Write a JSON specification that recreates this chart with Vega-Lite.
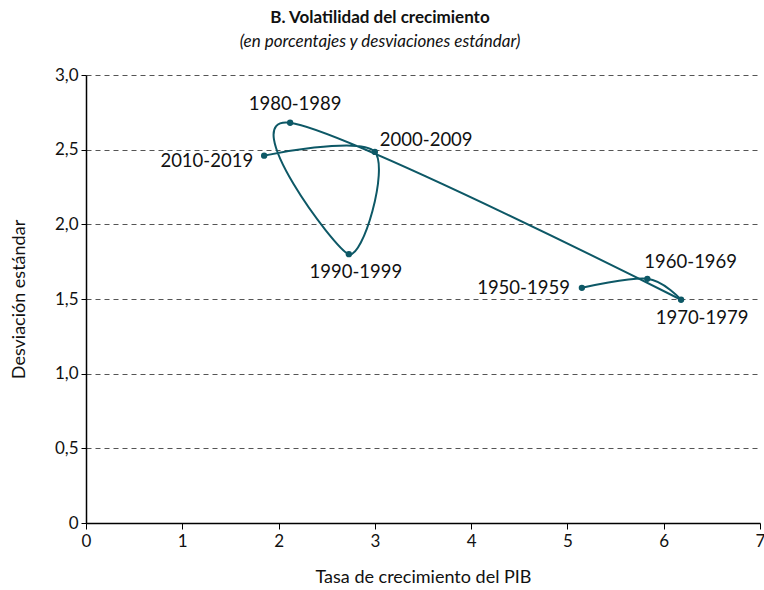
{
  "$schema": "https://vega.github.io/schema/vega-lite/v6.json",
  "autosize": "none",
  "width": 674,
  "height": 448,
  "padding": {"left": 86, "top": 75, "right": 4, "bottom": 67},
  "background": "white",
  "title": {
    "text": "B. Volatilidad del crecimiento",
    "subtitle": "(en porcentajes y desviaciones estándar)",
    "anchor": "middle",
    "dx": -43,
    "offset": 15,
    "font": "Lato",
    "fontSize": 17,
    "fontWeight": "bold",
    "color": "#111",
    "subtitleFont": "Lato",
    "subtitleFontSize": 17,
    "subtitleFontStyle": "italic",
    "subtitleColor": "#111",
    "subtitlePadding": 7
  },
  "data": {
    "values": [
      {"periodo": "1950-1959", "orden": 1, "crecimiento": 5.15, "desviacion": 1.575},
      {"periodo": "1960-1969", "orden": 2, "crecimiento": 5.83, "desviacion": 1.635},
      {"periodo": "1970-1979", "orden": 3, "crecimiento": 6.18, "desviacion": 1.495},
      {"periodo": "1980-1989", "orden": 4, "crecimiento": 2.12, "desviacion": 2.68},
      {"periodo": "1990-1999", "orden": 5, "crecimiento": 2.73, "desviacion": 1.80},
      {"periodo": "2000-2009", "orden": 6, "crecimiento": 3.0, "desviacion": 2.485},
      {"periodo": "2010-2019", "orden": 7, "crecimiento": 1.85, "desviacion": 2.46}
    ]
  },
  "encoding": {
    "x": {
      "field": "crecimiento",
      "type": "quantitative",
      "scale": {"domain": [0, 7], "nice": false},
      "axis": {
        "title": "Tasa de crecimiento del PIB",
        "values": [0, 1, 2, 3, 4, 5, 6, 7],
        "grid": false,
        "domainColor": "#000",
        "domainWidth": 1.5,
        "tickColor": "#000",
        "tickSize": 6,
        "labelFont": "Lato",
        "labelFontSize": 17,
        "labelColor": "#111",
        "labelPadding": 4,
        "labelFlush": false,
        "titleFont": "Lato",
        "titleFontSize": 18,
        "titleFontWeight": "normal",
        "titleColor": "#111",
        "titlePadding": 19
      }
    },
    "y": {
      "field": "desviacion",
      "type": "quantitative",
      "scale": {"domain": [0, 3], "nice": false},
      "axis": {
        "title": "Desviación estándar",
        "values": [0, 0.5, 1, 1.5, 2, 2.5, 3],
        "labelExpr": "datum.value == 0 ? '0' : replace(format(datum.value, '.1f'), '.', ',')",
        "grid": true,
        "gridDash": [5, 4],
        "gridColor": "#555",
        "gridWidth": 1,
        "domainColor": "#000",
        "domainWidth": 1.5,
        "tickColor": "#000",
        "tickSize": 5,
        "labelFont": "Lato",
        "labelFontSize": 17,
        "labelColor": "#111",
        "labelPadding": 3,
        "titleFont": "Lato",
        "titleFontSize": 18,
        "titleFontWeight": "normal",
        "titleColor": "#111",
        "titlePadding": 26
      }
    }
  },
  "layer": [
    {
      "transform": [{"filter": "datum.orden <= 3"}],
      "mark": {"type": "line", "interpolate": "cardinal", "tension": 0, "color": "#0d5866", "strokeWidth": 2},
      "encoding": {"order": {"field": "orden", "type": "quantitative"}}
    },
    {
      "transform": [{"filter": "datum.orden >= 3"}],
      "mark": {"type": "line", "interpolate": "cardinal", "tension": 0, "color": "#0d5866", "strokeWidth": 2},
      "encoding": {"order": {"field": "orden", "type": "quantitative"}}
    },
    {
      "mark": {"type": "circle", "color": "#0d5866", "size": 40, "opacity": 1}
    },
    {
      "transform": [{"filter": "datum.periodo == '1950-1959'"}],
      "mark": {"type": "text", "font": "Lato", "fontSize": 18.5, "color": "#111", "align": "right", "baseline": "middle", "dx": -12, "dy": 0},
      "encoding": {"text": {"field": "periodo"}}
    },
    {
      "transform": [{"filter": "datum.periodo == '1960-1969'"}],
      "mark": {"type": "text", "font": "Lato", "fontSize": 18.5, "color": "#111", "align": "left", "baseline": "middle", "dx": -3, "dy": -17},
      "encoding": {"text": {"field": "periodo"}}
    },
    {
      "transform": [{"filter": "datum.periodo == '1970-1979'"}],
      "mark": {"type": "text", "font": "Lato", "fontSize": 18.5, "color": "#111", "align": "center", "baseline": "middle", "dx": 21, "dy": 18},
      "encoding": {"text": {"field": "periodo"}}
    },
    {
      "transform": [{"filter": "datum.periodo == '1980-1989'"}],
      "mark": {"type": "text", "font": "Lato", "fontSize": 18.5, "color": "#111", "align": "center", "baseline": "middle", "dx": 5, "dy": -19},
      "encoding": {"text": {"field": "periodo"}}
    },
    {
      "transform": [{"filter": "datum.periodo == '1990-1999'"}],
      "mark": {"type": "text", "font": "Lato", "fontSize": 18.5, "color": "#111", "align": "center", "baseline": "middle", "dx": 7, "dy": 18},
      "encoding": {"text": {"field": "periodo"}}
    },
    {
      "transform": [{"filter": "datum.periodo == '2000-2009'"}],
      "mark": {"type": "text", "font": "Lato", "fontSize": 18.5, "color": "#111", "align": "left", "baseline": "middle", "dx": 5, "dy": -12},
      "encoding": {"text": {"field": "periodo"}}
    },
    {
      "transform": [{"filter": "datum.periodo == '2010-2019'"}],
      "mark": {"type": "text", "font": "Lato", "fontSize": 18.5, "color": "#111", "align": "right", "baseline": "middle", "dx": -11, "dy": 5},
      "encoding": {"text": {"field": "periodo"}}
    }
  ],
  "config": {"view": {"stroke": null}}
}
